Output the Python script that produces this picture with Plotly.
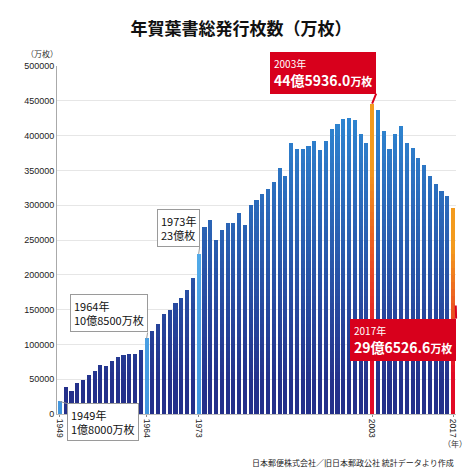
import plotly.graph_objects as go

years = list(range(1949, 2018))
values = [
    18000, 38700, 33400, 44500, 49200, 56400, 61200, 70300, 68400, 75500,
    81800, 84100, 85600, 85600, 92300, 108500, 119900, 129200, 144100, 149300,
    159300, 167000, 178000, 195800, 230000, 269100, 279300, 249600, 264900, 274400,
    274400, 288600, 271600, 299800, 307700, 316300, 323000, 333000, 353100, 342600,
    390000, 380400, 380400, 385200, 392400, 378900, 392900, 409200, 416800, 423500,
    424900, 422500, 401900, 390000, 445936, 437000, 407300, 380400, 401900, 413800,
    390000, 381800, 367500, 358400, 341100, 330200, 319700, 313500, 296527,
]
light_years = [1949, 1964, 1973]
red_years = [2003, 2017]
tick_years = [1949, 1964, 1973, 2003, 2017]

callouts = [
    (1949, "1949年", "1億8000万枚", "white"),
    (1964, "1964年", "10億8500万枚", "white"),
    (1973, "1973年", "23億枚", "white"),
    (2003, "2003年", "44億5936.0万枚", "red"),
    (2017, "2017年", "29億6526.6万枚", "red"),
]

TITLE = "年賀葉書総発行枚数（万枚）"
SOURCE = "日本郵便株式会社／旧日本郵政公社 統計データより作成"

BAND = 10000
NBANDS = 46
YMAX = 500000

# page body has an 8px default margin; work in window pixels and shift
OFF = 8
W = H = 474 - OFF
plot_l, plot_r, plot_t, plot_b = 57 - OFF, 456 - OFF, 66 - OFF, 414 - OFF

def mix(c1, c2, t):
    t = max(0.0, min(1.0, t))
    return "rgb(%d,%d,%d)" % tuple(round(a + (b - a) * t) for a, b in zip(c1, c2))

NAVY = (36, 48, 138)
BLUE = (46, 132, 208)
LIGHT = (66, 150, 222)
LIGHT_TOP = (86, 176, 236)
RED = (226, 10, 38)
ORANGE = (243, 155, 30)

fig = go.Figure()
for k in range(NBANDS):
    lo = k * BAND
    mid = lo + BAND / 2
    seg = [max(0, min(BAND, v - lo)) for v in values]
    cols = []
    for y, v in zip(years, values):
        if y in light_years:
            cols.append(mix(LIGHT, LIGHT_TOP, mid / 300000))
        elif y in red_years:
            cols.append(mix(RED, ORANGE, (mid / v - 0.2) / 0.6))
        else:
            cols.append(mix(NAVY, BLUE, (mid - 40000) / 380000))
    fig.add_trace(go.Bar(
        x=years, y=seg, marker=dict(color=cols, line=dict(width=0)),
        showlegend=False, hoverinfo="skip",
    ))

FONT = "Liberation Sans, Noto Sans CJK JP, sans-serif"
CJK = "Noto Sans CJK JP, Liberation Sans, sans-serif"

anns = []
val = dict(zip(years, values))
for (yr, l1, l2, style) in callouts:
    v = val[yr]
    if style == "white":
        text = f"{l1}<br>{l2}"
        common = dict(bgcolor="white", bordercolor="#9a9a9a", borderwidth=1,
                      font=dict(size=11, color="#111", family=CJK),
                      arrowcolor="#9a9a9a", arrowwidth=1)
    else:
        big = l2.replace("万枚", "<span style='font-size:11px'>万枚</span>")
        text = (f"<span style='font-size:10px'>{l1}</span><br>"
                f"<b>{big}</b>")
        common = dict(bgcolor="#d8001c", bordercolor="#d8001c", borderwidth=1,
                      font=dict(size=14, color="white", family=CJK),
                      arrowcolor="#d8001c", arrowwidth=2)
    if yr == 1949:
        pos = dict(ax=7, ay=2, xanchor="left", yanchor="top", standoff=0)
    elif yr == 1964:
        pos = dict(ax=1, ay=-6, xanchor="right", yanchor="bottom", standoff=0)
    elif yr == 1973:
        pos = dict(ax=1, ay=-7, xanchor="right", yanchor="bottom", standoff=0)
    elif yr == 2003:
        pos = dict(ax=4, ay=-10, xanchor="right", yanchor="bottom", standoff=0)
    else:
        pos = dict(ax=3, ay=111, xanchor="right", yanchor="top", standoff=98)
    anns.append(dict(x=yr, y=v, xref="x", yref="y", text=text, align="left",
                     showarrow=True, arrowhead=0, borderpad=3, **common, **pos))

def px2paper(xp, yp):
    xp -= OFF
    yp -= OFF
    return ((xp - plot_l) / (plot_r - plot_l), (plot_b - yp) / (plot_b - plot_t))

extra = [
    ("（万枚）", 42, 53, 8, "center", "#333"),
    ("（年）", 455, 443, 8, "center", "#333"),
    (SOURCE, 456, 462, 8, "right", "#222"),
]
for t, xp, yp, sz, anc, col in extra:
    px, py = px2paper(xp, yp)
    anns.append(dict(x=px, y=py, xref="paper", yref="paper", text=t, showarrow=False,
                     xanchor=anc, yanchor="middle",
                     font=dict(size=sz, color=col, family=CJK)))

fig.update_layout(
    width=W, height=H, autosize=False,
    margin=dict(l=plot_l, r=W - plot_r, t=plot_t, b=H - plot_b),
    paper_bgcolor="white", plot_bgcolor="white",
    barmode="stack", bargap=0.28,
    title=dict(text=f"<b>{TITLE}</b>", x=0.5, xanchor="center", y=1 - (29 - OFF) / H,
               yanchor="middle", yref="container",
               font=dict(size=17, color="#111", family=CJK)),
    xaxis=dict(range=[1948.5, 2017.5], tickvals=tick_years, ticktext=[str(t) for t in tick_years],
               tickangle=90, tickfont=dict(size=8.5, color="#222", family=FONT),
               ticks="outside", ticklen=2, tickcolor="#888", showgrid=False,
               showline=True, linecolor="#bbb", zeroline=False),
    yaxis=dict(range=[0, YMAX], dtick=50000, tickformat="d",
               tickfont=dict(size=9, color="#222", family=FONT),
               showgrid=True, gridcolor="#e6e6e6", gridwidth=1,
               showline=True, linecolor="#aaa", zeroline=False, ticks="", ticklen=0),
    font=dict(family=FONT),
    annotations=anns,
)

fig.write_html("out.html")
